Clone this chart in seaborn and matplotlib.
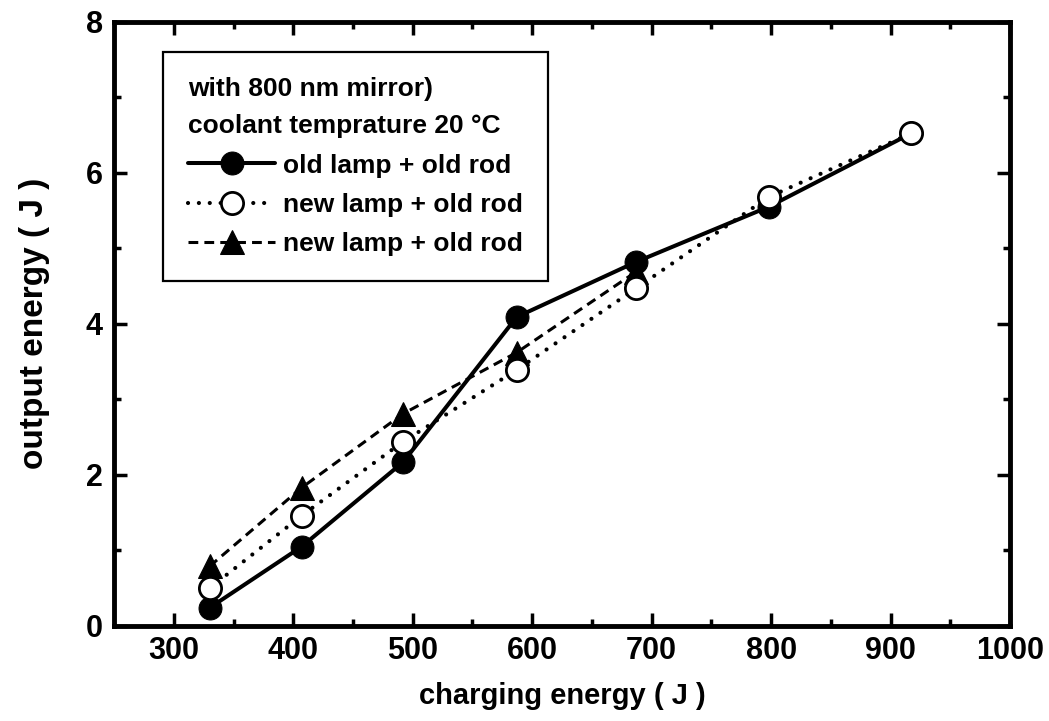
import matplotlib
matplotlib.use("Agg")
import matplotlib.pyplot as plt
import seaborn as sns

# Charging energy (J) and laser output energy (J) for each lamp/rod setup
charge_old_old = [330, 407, 492, 587, 687, 798, 917]
output_old_old = [0.24, 1.05, 2.17, 4.09, 4.82, 5.55, 6.52]

charge_new_dot = [330, 407, 492, 587, 687, 798, 917]
output_new_dot = [0.50, 1.46, 2.44, 3.39, 4.47, 5.68, 6.52]

charge_new_dash = [330, 407, 492, 587, 687]
output_new_dash = [0.79, 1.83, 2.81, 3.62, 4.69]

labels = ["old lamp + old rod", "new lamp + old rod", "new lamp + old rod"]
legend_title = "with 800 nm mirror)\ncoolant temprature 20 \u00b0C"

sns.set_theme(style="ticks")
plt.rcParams["font.family"] = ["Liberation Sans", "DejaVu Sans"]
plt.rcParams["font.weight"] = "bold"
for key in ["text.color", "axes.labelcolor", "xtick.color", "ytick.color",
            "axes.edgecolor"]:
    plt.rcParams[key] = "black"

fig = plt.figure(figsize=(10.49, 7.21), dpi=100)
ax = fig.add_axes([0.1087, 0.1318, 0.8542, 0.8381])

common = dict(color="black", markeredgecolor="black", sort=False, legend=False)

sns.lineplot(x=charge_new_dash, y=output_new_dash, ax=ax, marker="^",
             markersize=17, linewidth=2.2, linestyle=(0, (3.2, 2.0)),
             zorder=2, **common)
h_dash = ax.get_lines()[-1]
sns.lineplot(x=charge_old_old, y=output_old_old, ax=ax, marker="o",
             markersize=16.5, linewidth=2.9, linestyle="-",
             zorder=3, **common)
h_solid = ax.get_lines()[-1]
sns.lineplot(x=charge_new_dot, y=output_new_dot, ax=ax, marker="o",
             markersize=16, markerfacecolor="white", markeredgewidth=2.0,
             linewidth=3.0, linestyle=(0, (0.01, 2.6)), dash_capstyle="round",
             zorder=4, **common)
h_dot = ax.get_lines()[-1]

ax.set_xlim(250, 1000)
ax.set_ylim(0, 8)
ax.set_xticks([300, 400, 500, 600, 700, 800, 900, 1000])
ax.set_xticks([350, 450, 550, 650, 750, 850, 950], minor=True)
ax.set_yticks([0, 2, 4, 6, 8])
ax.set_yticks([1, 3, 5, 7], minor=True)

for side in ["left", "right", "top", "bottom"]:
    ax.spines[side].set_visible(True)
    ax.spines[side].set_linewidth(3.5)
    ax.spines[side].set_color("black")

ax.tick_params(which="both", direction="in", top=True, right=True,
               color="black", width=2.5)
ax.tick_params(which="major", length=9.5)
ax.tick_params(which="minor", length=5)
ax.tick_params(axis="x", which="major", labelsize=22, pad=7)
ax.tick_params(axis="y", which="major", labelsize=22, pad=8)
for lab in ax.get_xticklabels() + ax.get_yticklabels():
    lab.set_fontweight("bold")

ax.set_xlabel("charging energy ( J )", fontsize=21, fontweight="bold", labelpad=12)
ax.set_ylabel("output energy ( J )", fontsize=24, fontweight="bold", labelpad=26)

# Legend: two condition lines as a left-aligned title, then the three series
leg = ax.legend([h_solid, h_dot, h_dash], labels,
                title=legend_title, alignment="left",
                loc="upper left", bbox_to_anchor=(0.0547, 0.950),
                borderaxespad=0, frameon=True, fancybox=False, framealpha=1,
                edgecolor="black", fontsize=19, title_fontsize=19,
                handlelength=3.3, handletextpad=0.3, labelspacing=0.58,
                borderpad=0.95)
leg.get_frame().set_linewidth(1.6)
leg.get_title().set_fontweight("bold")
leg.get_title().set_linespacing(1.7)
for t in leg.get_texts():
    t.set_fontweight("bold")

fig.savefig("out.png", dpi=100, facecolor="white")
